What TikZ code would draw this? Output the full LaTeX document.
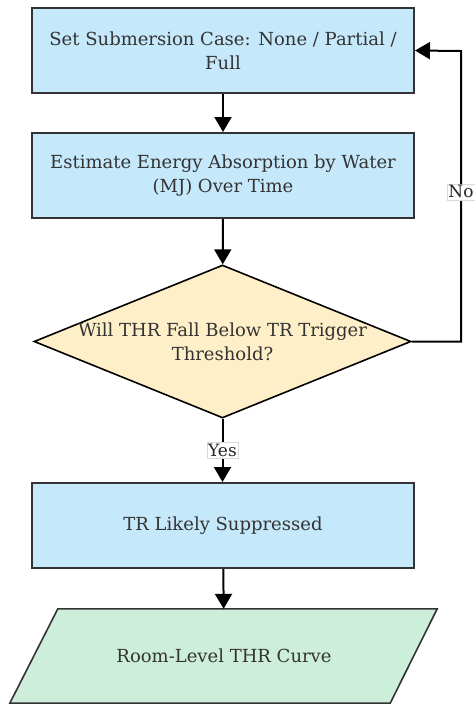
\documentclass[tikz,border=0pt]{standalone}
\usepackage{fontspec}
\setmainfont{DejaVu Serif}
\usetikzlibrary{shapes.geometric,arrows.meta,calc}
\definecolor{boxblue}{HTML}{C5E8FB}
\definecolor{decyel}{HTML}{FFEFC9}
\definecolor{outgreen}{HTML}{CDEEDA}
\definecolor{edge}{HTML}{333333}
\tikzset{
  x=1pt,y=1pt,
  txt/.style={text=edge,font=\fontsize{18}{24}\selectfont,align=center},
  procbox/.style={txt,draw=edge,line width=2pt,fill=boxblue,minimum width=382pt,minimum height=85pt,inner sep=0pt},
  decbox/.style={draw=black,line width=1.6pt,fill=decyel,diamond,aspect=2.47,inner sep=0pt,
    minimum width=377pt,minimum height=153pt},
  iobox/.style={txt,minimum width=380pt,minimum height=94pt,inner sep=0pt},
  ioshape/.style={draw=edge,line width=1.6pt,fill=outgreen},
  flow/.style={line width=2pt,draw=black,-{Triangle[width=17pt,length=15pt]}},
  lbl/.style={fill=white,draw=black!15,line width=0.4pt,inner sep=1.5pt,text=black!85,font=\fontsize{17}{18}\selectfont}
}
\begin{document}
\begin{tikzpicture}
\useasboundingbox (0,0) rectangle (474,-704);
\node[procbox] (set) at (223,-50.5) {Set Submersion Case: None / Partial /\\ Full};
\node[procbox] (est) at (223,-175.5) {Estimate Energy Absorption by Water\\ (MJ) Over Time};
\node[decbox] (dec) at (222.5,-341.5) {};
\node[txt] (dectxt) at (dec.center) {Will THR Fall Below TR Trigger\\ Threshold?};
\node[procbox] (sup) at (223,-525.5) {TR Likely Suppressed};
\node[iobox] (out) at (224,-656) {};
\draw[ioshape] ($(out.north west)+(24,0)$) -- ($(out.north east)+(23,0)$) -- ($(out.south east)+(-24,0)$) -- ($(out.south west)+(-24,0)$) -- cycle;
\node[txt] (outtxt) at (out.center) {Room-Level THR Curve};
\coordinate (c1) at (461,-341.5);
\coordinate (c2) at (461,-51);
\draw[flow] (set) -- (est);
\draw[flow] (est) -- (dec);
\draw[flow] (dec.south) -- node[lbl,pos=0.5] (yes) {Yes} (sup.north -| dec.south);
\draw[flow] (sup) -- (out);
\draw[flow] (dec.east) -- (c1) -- node[lbl,pos=0.515] (no) {No} (c2) -- (set.east);
\end{tikzpicture}
\end{document}
